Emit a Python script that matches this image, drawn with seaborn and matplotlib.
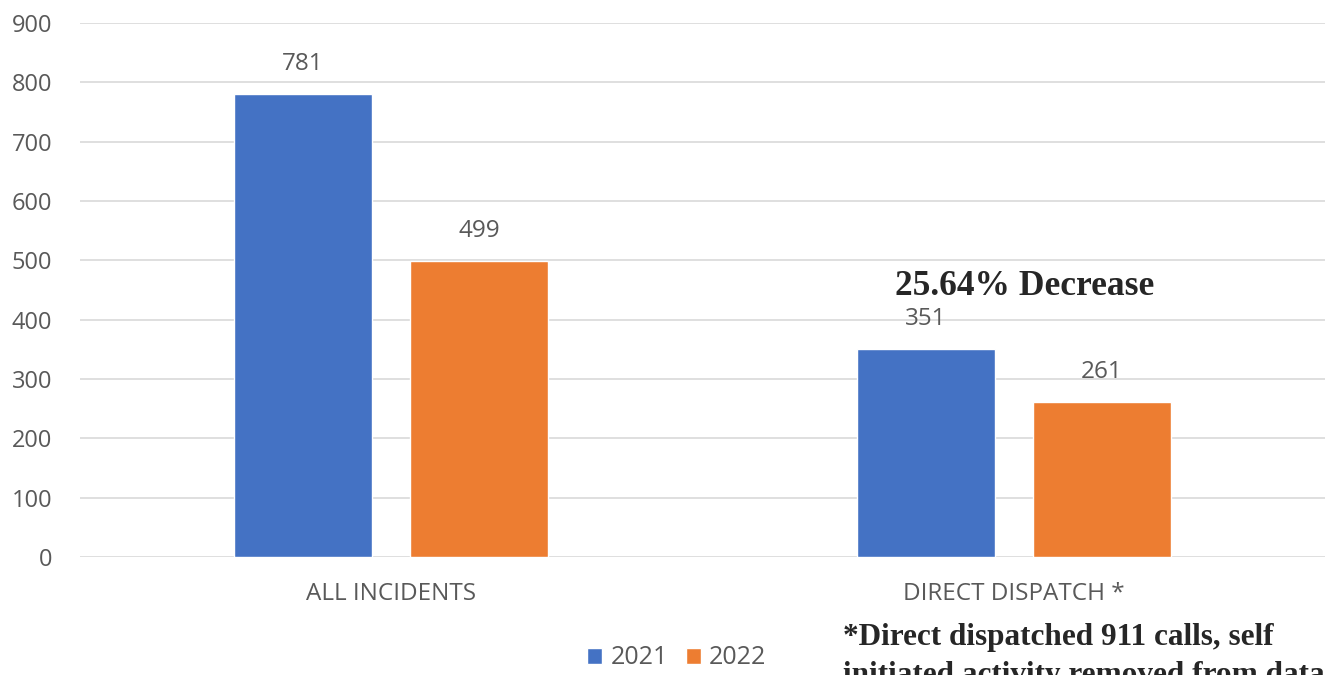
import pandas as pd
import matplotlib.pyplot as plt
import seaborn as sns

# data
categories = ['ALL INCIDENTS', 'DIRECT DISPATCH *']
years = ['2021', '2022']
values_2021 = [781, 351]
values_2022 = [499, 261]

colors = ['#4472C4', '#ED7D31']
text_gray = '#595959'

df = pd.DataFrame({
    'Category': categories * 2,
    'Year': [years[0]] * 2 + [years[1]] * 2,
    'Count': values_2021 + values_2022,
})

sns.set_style('white')
plt.rcParams['font.family'] = ['Open Sans', 'DejaVu Sans']

fig = plt.figure(figsize=(13.3, 6.75), dpi=100)
ax = fig.add_axes([80 / 1330, 118 / 675, 1245 / 1330, 534 / 675])

sns.barplot(data=df, x='Category', y='Count', hue='Year', order=categories,
            hue_order=years, palette=colors, width=0.566, gap=0.215,
            saturation=1, ax=ax, legend=True)

for c in ax.containers:
    ax.bar_label(c, padding=13, fontsize=17.5, color=text_gray)

ax.set_ylim(0, 900)
ax.set_xlim(-0.5, 1.5)
ax.set_yticks(range(0, 901, 100))
ax.yaxis.grid(True, color='#D9D9D9', linewidth=1.2)
ax.set_axisbelow(True)
for s in ax.spines.values():
    s.set_visible(False)
ax.tick_params(axis='y', length=0, pad=20, labelsize=17, labelcolor=text_gray)
ax.tick_params(axis='x', length=0, pad=18, labelsize=17.5, labelcolor=text_gray)
ax.set_xlabel('')
ax.set_ylabel('')

leg = ax.legend(loc='center', bbox_to_anchor=(0.4795, -0.189), ncol=2,
                frameon=False, fontsize=18, handlelength=0.6, handleheight=0.6,
                handletextpad=0.33, columnspacing=0.72, borderpad=0)
for t in leg.get_texts():
    t.set_color(text_gray)

ax.text(1.018, 442, '25.64% Decrease', ha='center', va='baseline',
        fontsize=25.5, fontweight='bold', family='Liberation Serif')

# footnote, second line runs off the bottom edge like in the original
fig.text(843 / 1330, 30 / 675, '*Direct dispatched 911 calls, self',
         ha='left', va='baseline', fontsize=22.5, fontweight='bold',
         family='Liberation Serif')
fig.text(843 / 1330, -8 / 675, 'initiated activity removed from data',
         ha='left', va='baseline', fontsize=22.5, fontweight='bold',
         family='Liberation Serif')

fig.savefig('out.png', dpi=100)
